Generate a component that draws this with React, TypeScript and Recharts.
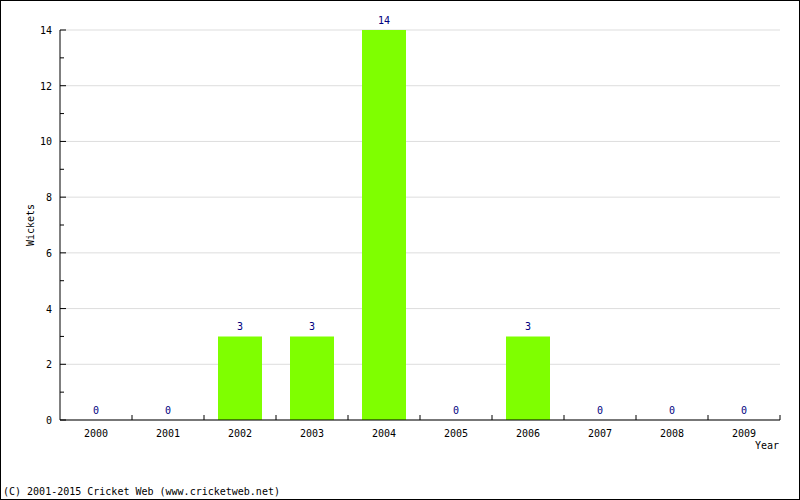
import { ComposedChart, Bar, Line, XAxis, YAxis, CartesianGrid, LabelList } from "recharts"

const years = ["2000", "2001", "2002", "2003", "2004", "2005", "2006", "2007", "2008", "2009"]
const wickets = [0, 0, 3, 3, 14, 0, 3, 0, 0, 0]
const yTicks = [0, 1, 2, 3, 4, 5, 6, 7, 8, 9, 10, 11, 12, 13, 14]
const yLabels = [0, 2, 4, 6, 8, 10, 12, 14]

const chartData = years.map((year, i) => ({ year, wickets: wickets[i] }))

const W = 800
const H = 500
const AXIS_W = 60
const margin = { top: 30, right: 20, bottom: 50, left: 0 }
const band = (W - AXIS_W - margin.right - margin.left) / years.length
const font = "'DejaVu Sans Mono', monospace"

function YTick({ x, y, payload }: any) {
  const major = payload.value % 2 === 0
  return (
    <g>
      <line x1={x} x2={x + (major ? 6 : 4)} y1={y} y2={y} stroke="#000" />
      {major && (
        <text x={x - 8} y={y + 4} textAnchor="end" fontSize={10} fontFamily={font} fill="#000">
          {payload.value}
        </text>
      )}
    </g>
  )
}

function XTick({ x, y, payload }: any) {
  return (
    <g>
      <line x1={x + band / 2} x2={x + band / 2} y1={y} y2={y - 5} stroke="#000" />
      <text x={x} y={y + 17} textAnchor="middle" fontSize={10} fontFamily={font} fill="#000">
        {payload.value}
      </text>
    </g>
  )
}

export default function App() {
  return (
    <div style={{ position: "absolute", left: 0, top: 0, width: W, height: H, background: "#fff", fontFamily: font }}>
      <ComposedChart width={W} height={H} data={chartData} margin={margin} barCategoryGap={14}>
        <CartesianGrid vertical={false} stroke="#dddddd" horizontalValues={yLabels} />
        <XAxis
          dataKey="year"
          height={30}
          tickSize={0}
          tickMargin={0}
          axisLine={{ stroke: "#000" }}
          tick={<XTick />}
          interval={0}
        />
        <YAxis
          width={AXIS_W}
          domain={[0, 14]}
          ticks={yTicks}
          interval={0}
          tickSize={0}
          tickMargin={0}
          axisLine={{ stroke: "#000" }}
          tick={<YTick />}
        />
        <Bar dataKey="wickets" fill="#7fff00" isAnimationActive={false} />
        {/* invisible series so every value, including zeros, gets a label */}
        <Line dataKey="wickets" stroke="none" dot={false} activeDot={false} isAnimationActive={false}>
          <LabelList dataKey="wickets" position="top" offset={6} fill="#000080" fontSize={10} fontFamily={font} />
        </Line>
      </ComposedChart>
      <div
        style={{
          position: "absolute",
          left: 30,
          top: 225,
          transform: "translate(-50%, -50%) rotate(-90deg)",
          fontSize: 10,
          whiteSpace: "nowrap",
        }}
      >
        Wickets
      </div>
      <div style={{ position: "absolute", right: 21, top: 439, fontSize: 10, lineHeight: "14px" }}>Year</div>
      <div style={{ position: "absolute", left: 3, top: 485, fontSize: 10, lineHeight: "14px", whiteSpace: "nowrap" }}>
        (C) 2001-2015 Cricket Web (www.cricketweb.net)
      </div>
      <div
        style={{
          position: "absolute",
          inset: 0,
          border: "1px solid #000",
          boxSizing: "border-box",
          pointerEvents: "none",
        }}
      />
    </div>
  )
}
